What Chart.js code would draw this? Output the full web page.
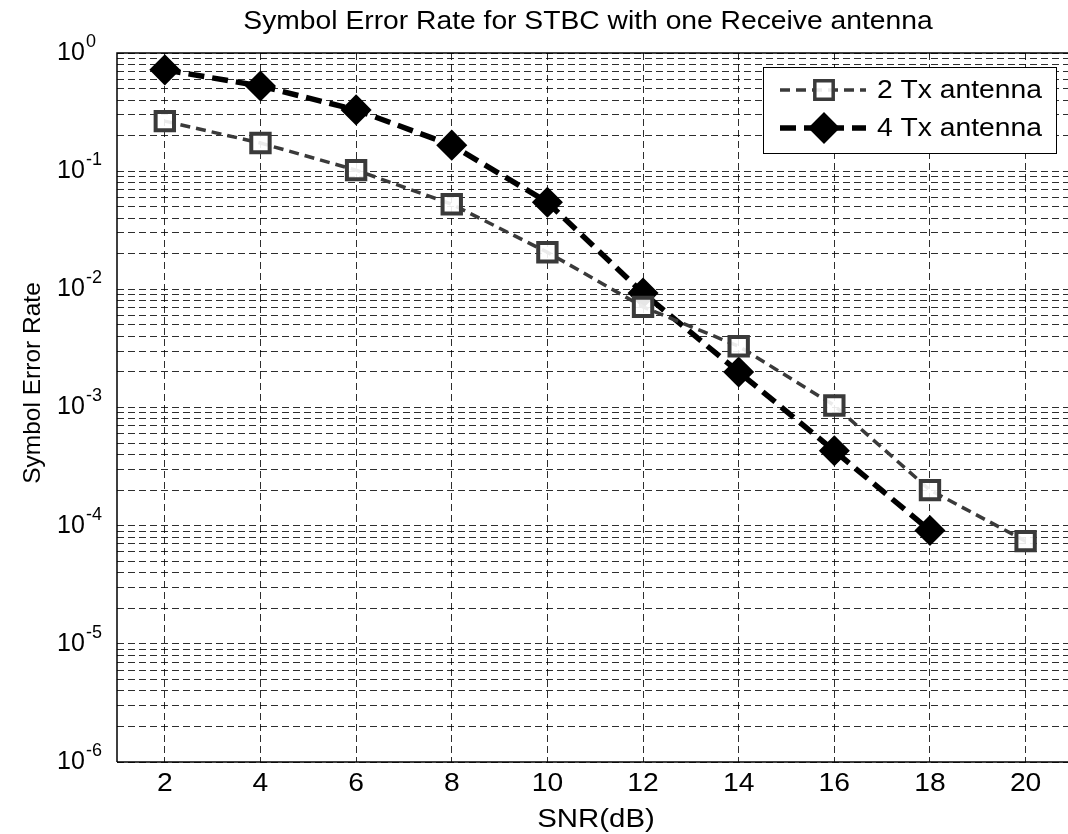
<!DOCTYPE html>
<html>
<head>
<meta charset="utf-8">
<title>Symbol Error Rate for STBC</title>
<script src="https://cdn.jsdelivr.net/npm/chart.js@4.4.1/dist/chart.umd.min.js"></script>
<style>
  html, body { margin: 0; padding: 0; background: #fff; overflow: hidden; }
  #wrap { width: 1068px; height: 834px; overflow: hidden; }
</style>
</head>
<body>
<div id="wrap"><canvas id="serChart" width="1100" height="834"></canvas></div>
<script>
// values
const snrDb = [2, 4, 6, 8, 10, 12, 14, 16, 18, 20];
const ser2Tx = [0.265, 0.173, 0.102, 0.0525, 0.0206, 0.0071, 0.0033, 0.00104, 0.0002, 0.000074];
const ser4Tx = [0.72, 0.525, 0.33, 0.166, 0.0546, 0.0093, 0.0020, 0.00043, 0.000091];
const xTickValues = [2, 4, 6, 8, 10, 12, 14, 16, 18, 20];
const yDecadeExps = [0, -1, -2, -3, -4, -5, -6];
const seriesLabels = ['2 Tx antenna', '4 Tx antenna'];

const TITLE = 'Symbol Error Rate for STBC with one Receive antenna';
const X_TITLE = 'SNR(dB)';
const Y_TITLE = 'Symbol Error Rate';
const FONT = '"Liberation Sans", Arial, sans-serif';
const STRETCH = 1.13; // the scanned figure is a bit wider than tall

const GRID_COLOR = 'rgba(0,0,0,0.82)';

function toPoints(xs, ys) {
  return ys.map((y, i) => ({ x: xs[i], y }));
}

// every 1..9 x 10^n value between 1e-6 and 1, for the minor grid
function logGridValues() {
  const vals = [];
  for (let e = -6; e < 0; e++) {
    for (let m = 1; m < 10; m++) vals.push(Number((m * Math.pow(10, e)).toPrecision(3)));
  }
  vals.push(1);
  return vals;
}

const series = [
  {
    label: seriesLabels[0],
    data: toPoints(snrDb, ser2Tx),
    borderColor: '#3a3a3a',
    borderWidth: 3.5,
    borderDash: [10, 6],
    pointStyle: 'rect',
    pointRadius: 13,
    pointBorderWidth: 4,
    pointBorderColor: '#3a3a3a',
    pointBackgroundColor: 'rgba(255,255,255,0.9)',
  },
  {
    label: seriesLabels[1],
    data: toPoints(snrDb, ser4Tx),
    borderColor: '#000',
    borderWidth: 5.5,
    borderDash: [16, 8],
    pointStyle: 'rectRot',
    pointRadius: 12,
    pointBorderWidth: 5,
    pointBorderColor: '#000',
    pointBackgroundColor: '#000',
  },
];

// horizontal text, widened like the scan
function wideText(ctx, text, x, y, align) {
  ctx.save();
  ctx.translate(x, y);
  ctx.scale(STRETCH, 1);
  ctx.textAlign = align;
  ctx.fillText(text, 0, 0);
  ctx.restore();
}

const decorations = {
  id: 'decorations',
  afterDraw(chart) {
    const { ctx, chartArea: a, scales } = chart;
    ctx.save();

    // axes box (top, left, bottom solid)
    ctx.strokeStyle = '#000';
    ctx.lineWidth = 1.5;
    ctx.setLineDash([]);
    ctx.beginPath();
    ctx.moveTo(a.left, a.bottom);
    ctx.lineTo(a.left, a.top);
    ctx.lineTo(a.right, a.top);
    ctx.moveTo(a.left, a.bottom);
    ctx.lineTo(a.right, a.bottom);
    ctx.stroke();

    // x tick labels
    ctx.fillStyle = '#000';
    ctx.font = `25px ${FONT}`;
    ctx.textBaseline = 'middle';
    xTickValues.forEach(v => {
      wideText(ctx, String(v), scales.x.getPixelForValue(v), a.bottom + 22, 'center');
    });

    // y tick labels as 10^n
    yDecadeExps.forEach(e => {
      const py = scales.y.getPixelForValue(Math.pow(10, e));
      ctx.textAlign = 'left';
      ctx.font = `25px ${FONT}`;
      ctx.fillText('10', 57, py);
      ctx.font = `18px ${FONT}`;
      ctx.fillText(String(e), 86, py - 11);
    });

    // axis titles
    ctx.font = `26px ${FONT}`;
    wideText(ctx, X_TITLE, 596, a.bottom + 58, 'center');
    ctx.font = `24.5px ${FONT}`;
    ctx.save();
    ctx.translate(33, 383);
    ctx.rotate(-Math.PI / 2);
    ctx.textAlign = 'center';
    ctx.fillText(Y_TITLE, 0, 0);
    ctx.restore();

    // chart title
    ctx.font = `25px ${FONT}`;
    wideText(ctx, TITLE, 588, 22, 'center');

    // legend box
    const lx = 763, ly = 67, lw = 293, lh = 86;
    ctx.fillStyle = '#fff';
    ctx.fillRect(lx, ly, lw, lh);
    ctx.strokeStyle = '#000';
    ctx.lineWidth = 1;
    ctx.strokeRect(lx + 0.5, ly + 0.5, lw, lh);

    const rows = [90, 128];
    series.forEach((ds, i) => {
      const y = rows[i];
      ctx.strokeStyle = ds.borderColor;
      ctx.lineWidth = ds.borderWidth;
      ctx.setLineDash(ds.borderDash);
      ctx.beginPath();
      ctx.moveTo(780, y);
      ctx.lineTo(866, y);
      ctx.stroke();
      ctx.setLineDash([]);
      ctx.strokeStyle = ds.pointBorderColor;
      ctx.fillStyle = ds.pointBackgroundColor;
      Chart.helpers.drawPoint(ctx, {
        pointStyle: ds.pointStyle,
        rotation: 0,
        radius: ds.pointRadius,
        borderWidth: ds.pointBorderWidth,
      }, 824, y);
      ctx.fillStyle = '#000';
      ctx.font = `25px ${FONT}`;
      wideText(ctx, ds.label, 877, y + 1, 'left');
    });

    ctx.restore();
  },
};

new Chart(document.getElementById('serChart'), {
  type: 'line',
  data: { datasets: series },
  options: {
    responsive: false,
    animation: false,
    devicePixelRatio: 1,
    layout: { padding: { top: 53, right: 0, left: 0, bottom: 0 } },
    plugins: {
      legend: { display: false },
      title: { display: false },
      tooltip: { enabled: false },
    },
    scales: {
      x: {
        type: 'linear',
        min: 1,
        max: 21.2,
        afterBuildTicks: scale => { scale.ticks = xTickValues.map(v => ({ value: v })); },
        afterFit: scale => { scale.height = 72; },
        ticks: { display: false },
        grid: { color: GRID_COLOR, lineWidth: 1, drawTicks: false },
        border: { display: false, dash: [7, 4] },
      },
      y: {
        type: 'logarithmic',
        min: 1e-6,
        max: 1,
        afterBuildTicks: scale => { scale.ticks = logGridValues().map(v => ({ value: v })); },
        afterFit: scale => { scale.width = 117; },
        ticks: { display: false },
        grid: { color: GRID_COLOR, lineWidth: 1, drawTicks: false },
        border: { display: false, dash: [7, 4] },
      },
    },
  },
  plugins: [decorations],
});
</script>
</body>
</html>
